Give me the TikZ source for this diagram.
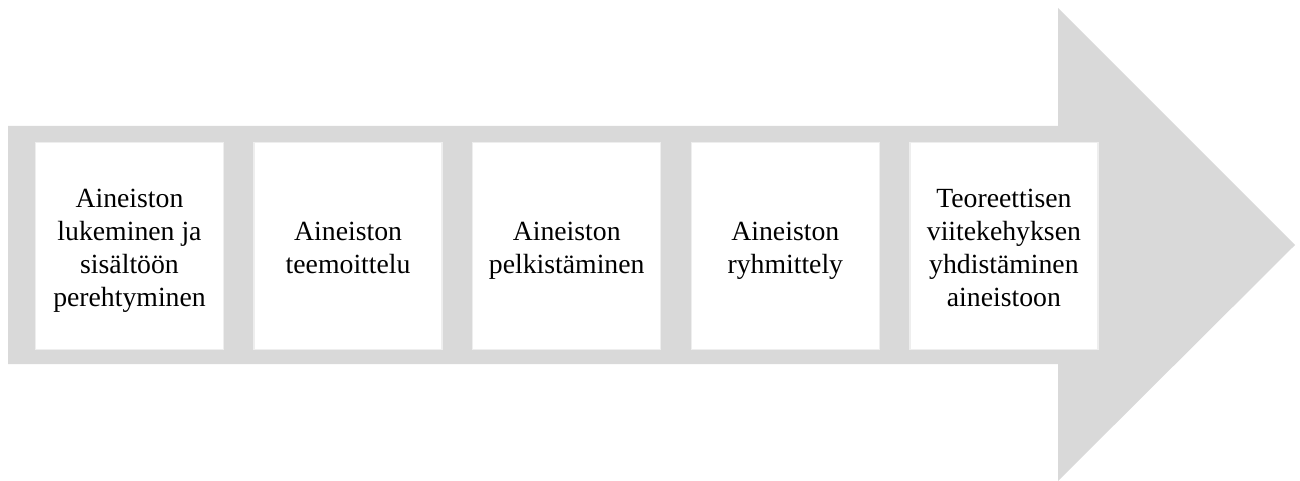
\documentclass[tikz,border=0pt]{standalone}
\usepackage{fontspec}
\setmainfont{Liberation Serif}
\definecolor{arrowgray}{HTML}{D9D9D9}
\tikzset{
	phase/.style={fill=white, draw=arrowgray!45, line width=1pt, minimum width=141pt, minimum height=155pt,
		text width=138pt, align=flush center, inner sep=0pt, font=\fontsize{20.8}{24.8}\selectfont,
		execute at begin node={\rule{0pt}{23.4pt}}, execute at end node=\strut},
}

\begin{document}
\begin{tikzpicture}[x=0.75pt,y=-0.75pt]
	\useasboundingbox (0,0) rectangle (1300,481);
	
	% big arrow in the background
	\fill[arrowgray] (8,126) -- (1058,126) -- (1058,8) -- (1295,245) -- (1058,481) -- (1058,364) -- (8,364) -- cycle;
	
	\foreach \txt [count=\i] in {{Aineiston\\lukeminen ja\\sisältöön\\perehtyminen},{Aineiston\\teemoittelu},{Aineiston\\pelkistäminen},{Aineiston\\ryhmittely},{Teoreettisen\\viitekehyksen\\yhdistäminen\\aineistoon}}{
		\node[phase] (p\i) at ({129.5+218.6*(\i-1)},246) {\txt};
	}
\end{tikzpicture}
\end{document}
